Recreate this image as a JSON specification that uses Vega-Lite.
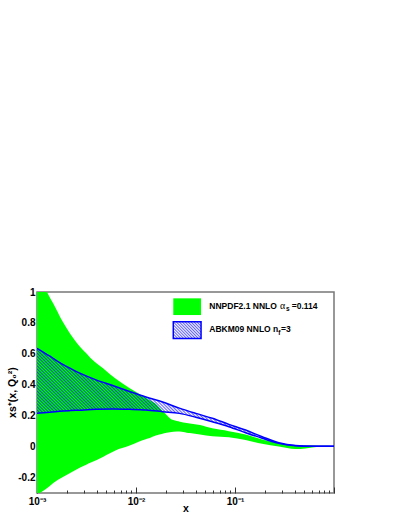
{
  "$schema": "https://vega.github.io/schema/vega-lite/v6.json",
  "width": 297,
  "height": 201,
  "autosize": {"type": "none"},
  "padding": {"left": 37, "top": 292, "right": 67, "bottom": 25},
  "background": "white",
  "config": {
    "view": {"stroke": "#777777", "strokeWidth": 1.5},
    "font": "Liberation Sans",
    "axis": {
      "domain": false, "grid": false, "labelOverlap": false, "labelFlush": false,
      "labelFont": "Liberation Sans", "labelFontWeight": "bold", "labelFontSize": 10, "labelColor": "black",
      "titleFont": "Liberation Sans", "titleFontWeight": "bold", "titleFontSize": 10.5, "titleColor": "black",
      "tickColor": "#333333", "tickWidth": 1
    }
  },
  "datasets": {
    "nnpdf": [
      {"x": 0.001, "lo": -0.31, "hi": 1.15},
      {"x": 0.00126, "lo": -0.27, "hi": 1.0},
      {"x": 0.00146, "lo": -0.235, "hi": 0.925},
      {"x": 0.00179, "lo": -0.2, "hi": 0.815},
      {"x": 0.00216, "lo": -0.17, "hi": 0.73},
      {"x": 0.00273, "lo": -0.135, "hi": 0.645},
      {"x": 0.00318, "lo": -0.115, "hi": 0.6},
      {"x": 0.00345, "lo": -0.105, "hi": 0.575},
      {"x": 0.00468, "lo": -0.065, "hi": 0.505},
      {"x": 0.0062, "lo": -0.025, "hi": 0.44},
      {"x": 0.0085, "lo": 0.005, "hi": 0.38},
      {"x": 0.0105, "lo": 0.03, "hi": 0.345},
      {"x": 0.0121, "lo": 0.045, "hi": 0.322},
      {"x": 0.0138, "lo": 0.056, "hi": 0.3},
      {"x": 0.0156, "lo": 0.07, "hi": 0.28},
      {"x": 0.0182, "lo": 0.082, "hi": 0.237},
      {"x": 0.0204, "lo": 0.09, "hi": 0.205},
      {"x": 0.022, "lo": 0.093, "hi": 0.183},
      {"x": 0.0258, "lo": 0.097, "hi": 0.165},
      {"x": 0.0278, "lo": 0.097, "hi": 0.161},
      {"x": 0.0325, "lo": 0.09, "hi": 0.153},
      {"x": 0.035, "lo": 0.088, "hi": 0.15},
      {"x": 0.0443, "lo": 0.078, "hi": 0.14},
      {"x": 0.059, "lo": 0.067, "hi": 0.118},
      {"x": 0.0868, "lo": 0.06, "hi": 0.1},
      {"x": 0.128, "lo": 0.043, "hi": 0.078},
      {"x": 0.188, "lo": 0.018, "hi": 0.046},
      {"x": 0.277, "lo": 0.0, "hi": 0.021},
      {"x": 0.408, "lo": -0.016, "hi": 0.008},
      {"x": 0.515, "lo": -0.012, "hi": 0.007},
      {"x": 0.7, "lo": -0.001, "hi": 0.006},
      {"x": 0.9, "lo": 0.003, "hi": 0.005}
    ],
    "abkm": [
      {"x": 0.001, "lo": 0.215, "hi": 0.636},
      {"x": 0.00135, "lo": 0.222, "hi": 0.585},
      {"x": 0.00184, "lo": 0.23, "hi": 0.53},
      {"x": 0.00217, "lo": 0.233, "hi": 0.506},
      {"x": 0.0027, "lo": 0.236, "hi": 0.475},
      {"x": 0.004, "lo": 0.241, "hi": 0.43},
      {"x": 0.0059, "lo": 0.243, "hi": 0.394},
      {"x": 0.0086, "lo": 0.241, "hi": 0.357},
      {"x": 0.0126, "lo": 0.237, "hi": 0.321},
      {"x": 0.0186, "lo": 0.226, "hi": 0.288},
      {"x": 0.0274, "lo": 0.215, "hi": 0.249},
      {"x": 0.0402, "lo": 0.19, "hi": 0.215},
      {"x": 0.059, "lo": 0.161, "hi": 0.183},
      {"x": 0.0868, "lo": 0.129, "hi": 0.144},
      {"x": 0.128, "lo": 0.09, "hi": 0.107},
      {"x": 0.188, "lo": 0.054, "hi": 0.064},
      {"x": 0.277, "lo": 0.021, "hi": 0.025},
      {"x": 0.408, "lo": 0.006, "hi": 0.007},
      {"x": 0.6, "lo": 0.002, "hi": 0.003},
      {"x": 1.0, "lo": 0.002, "hi": 0.003}
    ],
    "boxGreen": [{"x": 0.0238, "x2": 0.0454, "y": 0.959, "y2": 0.851}],
    "boxHatch": [{"x": 0.0238, "x2": 0.0454, "y": 0.808, "y2": 0.7}],
    "legendMain": [
      {"x": 0.055, "y": 0.893, "text": "NNPDF2.1 NNLO"},
      {"x": 0.3738, "y": 0.893, "text": "=0.114"},
      {"x": 0.055, "y": 0.739, "text": "ABKM09 NNLO"},
      {"x": 0.242, "y": 0.739, "text": "n"},
      {"x": 0.2914, "y": 0.739, "text": "=3"}
    ],
    "legendGreek": [{"x": 0.2848, "y": 0.893, "text": "α"}],
    "legendSub": [
      {"x": 0.3275, "y": 0.877, "text": "s"},
      {"x": 0.2739, "y": 0.719, "text": "f"}
    ]
  },
  "layer": [
    {
      "data": {"name": "nnpdf"},
      "mark": {"type": "area", "color": "#00ff00", "opacity": 1, "interpolate": "monotone", "clip": true},
      "encoding": {
        "x": {"field": "x", "type": "quantitative", "title": "x", "scale": {"type": "log", "domain": [0.001, 1], "nice": false},
          "axis": {"title": "x", "titleY": 15, "titleBaseline": "middle", "labelOverlap": false, "labelFlush": false, "labelPadding": 9, "labelBaseline": "top",
            "values": [0.001, 0.002, 0.003, 0.004, 0.005, 0.006, 0.007, 0.008, 0.009, 0.01, 0.02, 0.03, 0.04, 0.05, 0.06, 0.07, 0.08, 0.09, 0.1, 0.2, 0.3, 0.4, 0.5, 0.6, 0.7, 0.8, 0.9, 1],
            "labelExpr": "abs(datum.value - 0.001) < 1e-9 ? '10⁻³' : abs(datum.value - 0.01) < 1e-9 ? '10⁻²' : abs(datum.value - 0.1) < 1e-9 ? '10⁻¹' : ''",
            "tickSize": {"condition": {"test": "abs(log(datum.value)/LN10 - round(log(datum.value)/LN10)) < 1e-6", "value": -6}, "value": -3}}},
        "y": {"field": "hi", "type": "quantitative", "title": "xs⁺(x, Q₀²)", "scale": {"domain": [-0.3, 1], "nice": false, "zero": false},
          "axis": {"title": "xs⁺(x, Q₀²)", "titleX": -25, "titleY": 100, "titleAngle": -90, "titleAlign": "center", "titleBaseline": "middle", "labelOverlap": false, "labelFlush": false, "labelPadding": 8, "tickSize": -6,
            "values": [-0.2, 0, 0.2, 0.4, 0.6, 0.8, 1],
            "labelExpr": "datum.value < 0 ? '-' + format(-datum.value, '.1~f') : format(datum.value, '.1~f')"}},
        "y2": {"field": "lo"}
      }
    },
    {
      "data": {"name": "abkm"},
      "mark": {"type": "area", "opacity": 1, "interpolate": "monotone", "clip": true,
        "fill": {"gradient": "linear", "x1": 0, "y1": 1, "x2": 1.1994, "y2": 0.6042, "stops": [
          {"offset": 0, "color": "#0000ff00"}, {"offset": 0.004, "color": "#0000ff99"}, {"offset": 0.008, "color": "#0000ff00"}, {"offset": 0.012, "color": "#0000ff99"}, {"offset": 0.016, "color": "#0000ff00"}, {"offset": 0.02, "color": "#0000ff99"}, {"offset": 0.024, "color": "#0000ff00"}, {"offset": 0.028, "color": "#0000ff99"}, {"offset": 0.032, "color": "#0000ff00"}, {"offset": 0.036, "color": "#0000ff99"},
          {"offset": 0.04, "color": "#0000ff00"}, {"offset": 0.044, "color": "#0000ff99"}, {"offset": 0.048, "color": "#0000ff00"}, {"offset": 0.052, "color": "#0000ff99"}, {"offset": 0.056, "color": "#0000ff00"}, {"offset": 0.06, "color": "#0000ff99"}, {"offset": 0.064, "color": "#0000ff00"}, {"offset": 0.068, "color": "#0000ff99"}, {"offset": 0.072, "color": "#0000ff00"}, {"offset": 0.076, "color": "#0000ff99"},
          {"offset": 0.08, "color": "#0000ff00"}, {"offset": 0.084, "color": "#0000ff99"}, {"offset": 0.088, "color": "#0000ff00"}, {"offset": 0.092, "color": "#0000ff99"}, {"offset": 0.096, "color": "#0000ff00"}, {"offset": 0.1, "color": "#0000ff99"}, {"offset": 0.104, "color": "#0000ff00"}, {"offset": 0.108, "color": "#0000ff99"}, {"offset": 0.112, "color": "#0000ff00"}, {"offset": 0.116, "color": "#0000ff99"},
          {"offset": 0.12, "color": "#0000ff00"}, {"offset": 0.124, "color": "#0000ff99"}, {"offset": 0.128, "color": "#0000ff00"}, {"offset": 0.132, "color": "#0000ff99"}, {"offset": 0.136, "color": "#0000ff00"}, {"offset": 0.14, "color": "#0000ff99"}, {"offset": 0.144, "color": "#0000ff00"}, {"offset": 0.148, "color": "#0000ff99"}, {"offset": 0.152, "color": "#0000ff00"}, {"offset": 0.156, "color": "#0000ff99"},
          {"offset": 0.16, "color": "#0000ff00"}, {"offset": 0.164, "color": "#0000ff99"}, {"offset": 0.168, "color": "#0000ff00"}, {"offset": 0.172, "color": "#0000ff99"}, {"offset": 0.176, "color": "#0000ff00"}, {"offset": 0.18, "color": "#0000ff99"}, {"offset": 0.184, "color": "#0000ff00"}, {"offset": 0.188, "color": "#0000ff99"}, {"offset": 0.192, "color": "#0000ff00"}, {"offset": 0.196, "color": "#0000ff99"},
          {"offset": 0.2, "color": "#0000ff00"}, {"offset": 0.204, "color": "#0000ff99"}, {"offset": 0.208, "color": "#0000ff00"}, {"offset": 0.212, "color": "#0000ff99"}, {"offset": 0.216, "color": "#0000ff00"}, {"offset": 0.22, "color": "#0000ff99"}, {"offset": 0.224, "color": "#0000ff00"}, {"offset": 0.228, "color": "#0000ff99"}, {"offset": 0.232, "color": "#0000ff00"}, {"offset": 0.236, "color": "#0000ff99"},
          {"offset": 0.24, "color": "#0000ff00"}, {"offset": 0.244, "color": "#0000ff99"}, {"offset": 0.248, "color": "#0000ff00"}, {"offset": 0.252, "color": "#0000ff99"}, {"offset": 0.256, "color": "#0000ff00"}, {"offset": 0.26, "color": "#0000ff99"}, {"offset": 0.264, "color": "#0000ff00"}, {"offset": 0.268, "color": "#0000ff99"}, {"offset": 0.272, "color": "#0000ff00"}, {"offset": 0.276, "color": "#0000ff99"},
          {"offset": 0.28, "color": "#0000ff00"}, {"offset": 0.284, "color": "#0000ff99"}, {"offset": 0.288, "color": "#0000ff00"}, {"offset": 0.292, "color": "#0000ff99"}, {"offset": 0.296, "color": "#0000ff00"}, {"offset": 0.3, "color": "#0000ff99"}, {"offset": 0.304, "color": "#0000ff00"}, {"offset": 0.308, "color": "#0000ff99"}, {"offset": 0.312, "color": "#0000ff00"}, {"offset": 0.316, "color": "#0000ff99"},
          {"offset": 0.32, "color": "#0000ff00"}, {"offset": 0.324, "color": "#0000ff99"}, {"offset": 0.328, "color": "#0000ff00"}, {"offset": 0.332, "color": "#0000ff99"}, {"offset": 0.336, "color": "#0000ff00"}, {"offset": 0.34, "color": "#0000ff99"}, {"offset": 0.344, "color": "#0000ff00"}, {"offset": 0.348, "color": "#0000ff99"}, {"offset": 0.352, "color": "#0000ff00"}, {"offset": 0.356, "color": "#0000ff99"},
          {"offset": 0.36, "color": "#0000ff00"}, {"offset": 0.364, "color": "#0000ff99"}, {"offset": 0.368, "color": "#0000ff00"}, {"offset": 0.372, "color": "#0000ff99"}, {"offset": 0.376, "color": "#0000ff00"}, {"offset": 0.38, "color": "#0000ff99"}, {"offset": 0.384, "color": "#0000ff00"}, {"offset": 0.388, "color": "#0000ff99"}, {"offset": 0.392, "color": "#0000ff00"}, {"offset": 0.396, "color": "#0000ff99"},
          {"offset": 0.4, "color": "#0000ff00"}, {"offset": 0.404, "color": "#0000ff99"}, {"offset": 0.408, "color": "#0000ff00"}, {"offset": 0.412, "color": "#0000ff99"}, {"offset": 0.416, "color": "#0000ff00"}, {"offset": 0.42, "color": "#0000ff99"}, {"offset": 0.424, "color": "#0000ff00"}, {"offset": 0.428, "color": "#0000ff99"}, {"offset": 0.432, "color": "#0000ff00"}, {"offset": 0.436, "color": "#0000ff99"},
          {"offset": 0.44, "color": "#0000ff00"}, {"offset": 0.444, "color": "#0000ff99"}, {"offset": 0.448, "color": "#0000ff00"}, {"offset": 0.452, "color": "#0000ff99"}, {"offset": 0.456, "color": "#0000ff00"}, {"offset": 0.46, "color": "#0000ff99"}, {"offset": 0.464, "color": "#0000ff00"}, {"offset": 0.468, "color": "#0000ff99"}, {"offset": 0.472, "color": "#0000ff00"}, {"offset": 0.476, "color": "#0000ff99"},
          {"offset": 0.48, "color": "#0000ff00"}, {"offset": 0.484, "color": "#0000ff99"}, {"offset": 0.488, "color": "#0000ff00"}, {"offset": 0.492, "color": "#0000ff99"}, {"offset": 0.496, "color": "#0000ff00"}, {"offset": 0.5, "color": "#0000ff99"}, {"offset": 0.504, "color": "#0000ff00"}, {"offset": 0.508, "color": "#0000ff99"}, {"offset": 0.512, "color": "#0000ff00"}, {"offset": 0.516, "color": "#0000ff99"},
          {"offset": 0.52, "color": "#0000ff00"}, {"offset": 0.524, "color": "#0000ff99"}, {"offset": 0.528, "color": "#0000ff00"}, {"offset": 0.532, "color": "#0000ff99"}, {"offset": 0.536, "color": "#0000ff00"}, {"offset": 0.54, "color": "#0000ff99"}, {"offset": 0.544, "color": "#0000ff00"}, {"offset": 0.548, "color": "#0000ff99"}, {"offset": 0.552, "color": "#0000ff00"}, {"offset": 0.556, "color": "#0000ff99"},
          {"offset": 0.56, "color": "#0000ff00"}, {"offset": 0.564, "color": "#0000ff99"}, {"offset": 0.568, "color": "#0000ff00"}, {"offset": 0.572, "color": "#0000ff99"}, {"offset": 0.576, "color": "#0000ff00"}, {"offset": 0.58, "color": "#0000ff99"}, {"offset": 0.584, "color": "#0000ff00"}, {"offset": 0.588, "color": "#0000ff99"}, {"offset": 0.592, "color": "#0000ff00"}, {"offset": 0.596, "color": "#0000ff99"},
          {"offset": 0.6, "color": "#0000ff00"}, {"offset": 0.604, "color": "#0000ff99"}, {"offset": 0.608, "color": "#0000ff00"}, {"offset": 0.612, "color": "#0000ff99"}, {"offset": 0.616, "color": "#0000ff00"}, {"offset": 0.62, "color": "#0000ff99"}, {"offset": 0.624, "color": "#0000ff00"}, {"offset": 0.628, "color": "#0000ff99"}, {"offset": 0.632, "color": "#0000ff00"}, {"offset": 0.636, "color": "#0000ff99"},
          {"offset": 0.64, "color": "#0000ff00"}, {"offset": 0.644, "color": "#0000ff99"}, {"offset": 0.648, "color": "#0000ff00"}, {"offset": 0.652, "color": "#0000ff99"}, {"offset": 0.656, "color": "#0000ff00"}, {"offset": 0.66, "color": "#0000ff99"}, {"offset": 0.664, "color": "#0000ff00"}, {"offset": 0.668, "color": "#0000ff99"}, {"offset": 0.672, "color": "#0000ff00"}, {"offset": 0.676, "color": "#0000ff99"},
          {"offset": 0.68, "color": "#0000ff00"}, {"offset": 0.684, "color": "#0000ff99"}, {"offset": 0.688, "color": "#0000ff00"}, {"offset": 0.692, "color": "#0000ff99"}, {"offset": 0.696, "color": "#0000ff00"}, {"offset": 0.7, "color": "#0000ff99"}, {"offset": 0.704, "color": "#0000ff00"}, {"offset": 0.708, "color": "#0000ff99"}, {"offset": 0.712, "color": "#0000ff00"}, {"offset": 0.716, "color": "#0000ff99"},
          {"offset": 0.72, "color": "#0000ff00"}, {"offset": 0.724, "color": "#0000ff99"}, {"offset": 0.728, "color": "#0000ff00"}, {"offset": 0.732, "color": "#0000ff99"}, {"offset": 0.736, "color": "#0000ff00"}, {"offset": 0.74, "color": "#0000ff99"}, {"offset": 0.744, "color": "#0000ff00"}, {"offset": 0.748, "color": "#0000ff99"}, {"offset": 0.752, "color": "#0000ff00"}, {"offset": 0.756, "color": "#0000ff99"},
          {"offset": 0.76, "color": "#0000ff00"}, {"offset": 0.764, "color": "#0000ff99"}, {"offset": 0.768, "color": "#0000ff00"}, {"offset": 0.772, "color": "#0000ff99"}, {"offset": 0.776, "color": "#0000ff00"}, {"offset": 0.78, "color": "#0000ff99"}, {"offset": 0.784, "color": "#0000ff00"}, {"offset": 0.788, "color": "#0000ff99"}, {"offset": 0.792, "color": "#0000ff00"}, {"offset": 0.796, "color": "#0000ff99"},
          {"offset": 0.8, "color": "#0000ff00"}, {"offset": 0.804, "color": "#0000ff99"}, {"offset": 0.808, "color": "#0000ff00"}, {"offset": 0.812, "color": "#0000ff99"}, {"offset": 0.816, "color": "#0000ff00"}, {"offset": 0.82, "color": "#0000ff99"}, {"offset": 0.824, "color": "#0000ff00"}, {"offset": 0.828, "color": "#0000ff99"}, {"offset": 0.832, "color": "#0000ff00"}, {"offset": 0.836, "color": "#0000ff99"},
          {"offset": 0.84, "color": "#0000ff00"}, {"offset": 0.844, "color": "#0000ff99"}, {"offset": 0.848, "color": "#0000ff00"}, {"offset": 0.852, "color": "#0000ff99"}, {"offset": 0.856, "color": "#0000ff00"}, {"offset": 0.86, "color": "#0000ff99"}, {"offset": 0.864, "color": "#0000ff00"}, {"offset": 0.868, "color": "#0000ff99"}, {"offset": 0.872, "color": "#0000ff00"}, {"offset": 0.876, "color": "#0000ff99"},
          {"offset": 0.88, "color": "#0000ff00"}, {"offset": 0.884, "color": "#0000ff99"}, {"offset": 0.888, "color": "#0000ff00"}, {"offset": 0.892, "color": "#0000ff99"}, {"offset": 0.896, "color": "#0000ff00"}, {"offset": 0.9, "color": "#0000ff99"}, {"offset": 0.904, "color": "#0000ff00"}, {"offset": 0.908, "color": "#0000ff99"}, {"offset": 0.912, "color": "#0000ff00"}, {"offset": 0.916, "color": "#0000ff99"},
          {"offset": 0.92, "color": "#0000ff00"}, {"offset": 0.924, "color": "#0000ff99"}, {"offset": 0.928, "color": "#0000ff00"}, {"offset": 0.932, "color": "#0000ff99"}, {"offset": 0.936, "color": "#0000ff00"}, {"offset": 0.94, "color": "#0000ff99"}, {"offset": 0.944, "color": "#0000ff00"}, {"offset": 0.948, "color": "#0000ff99"}, {"offset": 0.952, "color": "#0000ff00"}, {"offset": 0.956, "color": "#0000ff99"},
          {"offset": 0.96, "color": "#0000ff00"}, {"offset": 0.964, "color": "#0000ff99"}, {"offset": 0.968, "color": "#0000ff00"}, {"offset": 0.972, "color": "#0000ff99"}, {"offset": 0.976, "color": "#0000ff00"}, {"offset": 0.98, "color": "#0000ff99"}, {"offset": 0.984, "color": "#0000ff00"}, {"offset": 0.988, "color": "#0000ff99"}, {"offset": 0.992, "color": "#0000ff00"}, {"offset": 0.996, "color": "#0000ff99"},
          {"offset": 1, "color": "#0000ff00"}
        ]}},
      "encoding": {
        "x": {"field": "x", "type": "quantitative", "title": "x", "scale": {"type": "log", "domain": [0.001, 1], "nice": false},
          "axis": {"title": "x", "titleY": 15, "titleBaseline": "middle", "labelOverlap": false, "labelFlush": false, "labelPadding": 9, "labelBaseline": "top",
            "values": [0.001, 0.002, 0.003, 0.004, 0.005, 0.006, 0.007, 0.008, 0.009, 0.01, 0.02, 0.03, 0.04, 0.05, 0.06, 0.07, 0.08, 0.09, 0.1, 0.2, 0.3, 0.4, 0.5, 0.6, 0.7, 0.8, 0.9, 1],
            "labelExpr": "abs(datum.value - 0.001) < 1e-9 ? '10⁻³' : abs(datum.value - 0.01) < 1e-9 ? '10⁻²' : abs(datum.value - 0.1) < 1e-9 ? '10⁻¹' : ''",
            "tickSize": {"condition": {"test": "abs(log(datum.value)/LN10 - round(log(datum.value)/LN10)) < 1e-6", "value": -6}, "value": -3}}},
        "y": {"field": "hi", "type": "quantitative", "title": "xs⁺(x, Q₀²)", "scale": {"domain": [-0.3, 1], "nice": false, "zero": false},
          "axis": {"title": "xs⁺(x, Q₀²)", "titleX": -25, "titleY": 100, "titleAngle": -90, "titleAlign": "center", "titleBaseline": "middle", "labelOverlap": false, "labelFlush": false, "labelPadding": 8, "tickSize": -6,
            "values": [-0.2, 0, 0.2, 0.4, 0.6, 0.8, 1],
            "labelExpr": "datum.value < 0 ? '-' + format(-datum.value, '.1~f') : format(datum.value, '.1~f')"}},
        "y2": {"field": "lo"}
      }
    },
    {
      "data": {"name": "abkm"},
      "mark": {"type": "line", "color": "#0000ff", "strokeWidth": 1.5, "interpolate": "monotone", "clip": true},
      "encoding": {
        "x": {"field": "x", "type": "quantitative", "title": "x", "scale": {"type": "log", "domain": [0.001, 1], "nice": false},
          "axis": {"title": "x", "titleY": 15, "titleBaseline": "middle", "labelOverlap": false, "labelFlush": false, "labelPadding": 9, "labelBaseline": "top",
            "values": [0.001, 0.002, 0.003, 0.004, 0.005, 0.006, 0.007, 0.008, 0.009, 0.01, 0.02, 0.03, 0.04, 0.05, 0.06, 0.07, 0.08, 0.09, 0.1, 0.2, 0.3, 0.4, 0.5, 0.6, 0.7, 0.8, 0.9, 1],
            "labelExpr": "abs(datum.value - 0.001) < 1e-9 ? '10⁻³' : abs(datum.value - 0.01) < 1e-9 ? '10⁻²' : abs(datum.value - 0.1) < 1e-9 ? '10⁻¹' : ''",
            "tickSize": {"condition": {"test": "abs(log(datum.value)/LN10 - round(log(datum.value)/LN10)) < 1e-6", "value": -6}, "value": -3}}},
        "y": {"field": "hi", "type": "quantitative", "title": "xs⁺(x, Q₀²)", "scale": {"domain": [-0.3, 1], "nice": false, "zero": false},
          "axis": {"title": "xs⁺(x, Q₀²)", "titleX": -25, "titleY": 100, "titleAngle": -90, "titleAlign": "center", "titleBaseline": "middle", "labelOverlap": false, "labelFlush": false, "labelPadding": 8, "tickSize": -6,
            "values": [-0.2, 0, 0.2, 0.4, 0.6, 0.8, 1],
            "labelExpr": "datum.value < 0 ? '-' + format(-datum.value, '.1~f') : format(datum.value, '.1~f')"}}
      }
    },
    {
      "data": {"name": "abkm"},
      "mark": {"type": "line", "color": "#0000ff", "strokeWidth": 1.5, "interpolate": "monotone", "clip": true},
      "encoding": {
        "x": {"field": "x", "type": "quantitative", "title": "x", "scale": {"type": "log", "domain": [0.001, 1], "nice": false},
          "axis": {"title": "x", "titleY": 15, "titleBaseline": "middle", "labelOverlap": false, "labelFlush": false, "labelPadding": 9, "labelBaseline": "top",
            "values": [0.001, 0.002, 0.003, 0.004, 0.005, 0.006, 0.007, 0.008, 0.009, 0.01, 0.02, 0.03, 0.04, 0.05, 0.06, 0.07, 0.08, 0.09, 0.1, 0.2, 0.3, 0.4, 0.5, 0.6, 0.7, 0.8, 0.9, 1],
            "labelExpr": "abs(datum.value - 0.001) < 1e-9 ? '10⁻³' : abs(datum.value - 0.01) < 1e-9 ? '10⁻²' : abs(datum.value - 0.1) < 1e-9 ? '10⁻¹' : ''",
            "tickSize": {"condition": {"test": "abs(log(datum.value)/LN10 - round(log(datum.value)/LN10)) < 1e-6", "value": -6}, "value": -3}}},
        "y": {"field": "lo", "type": "quantitative", "title": "xs⁺(x, Q₀²)", "scale": {"domain": [-0.3, 1], "nice": false, "zero": false},
          "axis": {"title": "xs⁺(x, Q₀²)", "titleX": -25, "titleY": 100, "titleAngle": -90, "titleAlign": "center", "titleBaseline": "middle", "labelOverlap": false, "labelFlush": false, "labelPadding": 8, "tickSize": -6,
            "values": [-0.2, 0, 0.2, 0.4, 0.6, 0.8, 1],
            "labelExpr": "datum.value < 0 ? '-' + format(-datum.value, '.1~f') : format(datum.value, '.1~f')"}}
      }
    },
    {
      "data": {"name": "boxGreen"},
      "mark": {"type": "rect", "color": "#00ff00", "opacity": 1},
      "encoding": {
        "x": {"field": "x", "type": "quantitative", "title": "x", "scale": {"type": "log", "domain": [0.001, 1], "nice": false},
          "axis": {"title": "x", "titleY": 15, "titleBaseline": "middle", "labelOverlap": false, "labelFlush": false, "labelPadding": 9, "labelBaseline": "top",
            "values": [0.001, 0.002, 0.003, 0.004, 0.005, 0.006, 0.007, 0.008, 0.009, 0.01, 0.02, 0.03, 0.04, 0.05, 0.06, 0.07, 0.08, 0.09, 0.1, 0.2, 0.3, 0.4, 0.5, 0.6, 0.7, 0.8, 0.9, 1],
            "labelExpr": "abs(datum.value - 0.001) < 1e-9 ? '10⁻³' : abs(datum.value - 0.01) < 1e-9 ? '10⁻²' : abs(datum.value - 0.1) < 1e-9 ? '10⁻¹' : ''",
            "tickSize": {"condition": {"test": "abs(log(datum.value)/LN10 - round(log(datum.value)/LN10)) < 1e-6", "value": -6}, "value": -3}}},
        "x2": {"field": "x2"},
        "y": {"field": "y", "type": "quantitative", "title": "xs⁺(x, Q₀²)", "scale": {"domain": [-0.3, 1], "nice": false, "zero": false},
          "axis": {"title": "xs⁺(x, Q₀²)", "titleX": -25, "titleY": 100, "titleAngle": -90, "titleAlign": "center", "titleBaseline": "middle", "labelOverlap": false, "labelFlush": false, "labelPadding": 8, "tickSize": -6,
            "values": [-0.2, 0, 0.2, 0.4, 0.6, 0.8, 1],
            "labelExpr": "datum.value < 0 ? '-' + format(-datum.value, '.1~f') : format(datum.value, '.1~f')"}},
        "y2": {"field": "y2"}
      }
    },
    {
      "data": {"name": "boxHatch"},
      "mark": {"type": "rect", "stroke": "#0000ff", "strokeWidth": 1.5, "opacity": 1,
        "fill": {"gradient": "linear", "x1": 0, "y1": 1, "x2": 1.18, "y2": 0.304, "stops": [
          {"offset": 0, "color": "#0000ff00"}, {"offset": 0.0333, "color": "#0000ff99"}, {"offset": 0.0667, "color": "#0000ff00"}, {"offset": 0.1, "color": "#0000ff99"}, {"offset": 0.1333, "color": "#0000ff00"}, {"offset": 0.1667, "color": "#0000ff99"}, {"offset": 0.2, "color": "#0000ff00"}, {"offset": 0.2333, "color": "#0000ff99"}, {"offset": 0.2667, "color": "#0000ff00"}, {"offset": 0.3, "color": "#0000ff99"}, {"offset": 0.3333, "color": "#0000ff00"}, {"offset": 0.3667, "color": "#0000ff99"}, {"offset": 0.4, "color": "#0000ff00"}, {"offset": 0.4333, "color": "#0000ff99"}, {"offset": 0.4667, "color": "#0000ff00"}, {"offset": 0.5, "color": "#0000ff99"}, {"offset": 0.5333, "color": "#0000ff00"}, {"offset": 0.5667, "color": "#0000ff99"}, {"offset": 0.6, "color": "#0000ff00"}, {"offset": 0.6333, "color": "#0000ff99"}, {"offset": 0.6667, "color": "#0000ff00"}, {"offset": 0.7, "color": "#0000ff99"}, {"offset": 0.7333, "color": "#0000ff00"}, {"offset": 0.7667, "color": "#0000ff99"}, {"offset": 0.8, "color": "#0000ff00"}, {"offset": 0.8333, "color": "#0000ff99"}, {"offset": 0.8667, "color": "#0000ff00"}, {"offset": 0.9, "color": "#0000ff99"}, {"offset": 0.9333, "color": "#0000ff00"}, {"offset": 0.9667, "color": "#0000ff99"}, {"offset": 1, "color": "#0000ff00"}
        ]}},
      "encoding": {
        "x": {"field": "x", "type": "quantitative", "title": "x", "scale": {"type": "log", "domain": [0.001, 1], "nice": false},
          "axis": {"title": "x", "titleY": 15, "titleBaseline": "middle", "labelOverlap": false, "labelFlush": false, "labelPadding": 9, "labelBaseline": "top",
            "values": [0.001, 0.002, 0.003, 0.004, 0.005, 0.006, 0.007, 0.008, 0.009, 0.01, 0.02, 0.03, 0.04, 0.05, 0.06, 0.07, 0.08, 0.09, 0.1, 0.2, 0.3, 0.4, 0.5, 0.6, 0.7, 0.8, 0.9, 1],
            "labelExpr": "abs(datum.value - 0.001) < 1e-9 ? '10⁻³' : abs(datum.value - 0.01) < 1e-9 ? '10⁻²' : abs(datum.value - 0.1) < 1e-9 ? '10⁻¹' : ''",
            "tickSize": {"condition": {"test": "abs(log(datum.value)/LN10 - round(log(datum.value)/LN10)) < 1e-6", "value": -6}, "value": -3}}},
        "x2": {"field": "x2"},
        "y": {"field": "y", "type": "quantitative", "title": "xs⁺(x, Q₀²)", "scale": {"domain": [-0.3, 1], "nice": false, "zero": false},
          "axis": {"title": "xs⁺(x, Q₀²)", "titleX": -25, "titleY": 100, "titleAngle": -90, "titleAlign": "center", "titleBaseline": "middle", "labelOverlap": false, "labelFlush": false, "labelPadding": 8, "tickSize": -6,
            "values": [-0.2, 0, 0.2, 0.4, 0.6, 0.8, 1],
            "labelExpr": "datum.value < 0 ? '-' + format(-datum.value, '.1~f') : format(datum.value, '.1~f')"}},
        "y2": {"field": "y2"}
      }
    },
    {
      "data": {"name": "legendMain"},
      "mark": {"type": "text", "align": "left", "baseline": "alphabetic", "font": "Liberation Sans", "fontWeight": "bold", "fontSize": 8.5, "color": "black"},
      "encoding": {
        "x": {"field": "x", "type": "quantitative", "title": "x", "scale": {"type": "log", "domain": [0.001, 1], "nice": false},
          "axis": {"title": "x", "titleY": 15, "titleBaseline": "middle", "labelOverlap": false, "labelFlush": false, "labelPadding": 9, "labelBaseline": "top",
            "values": [0.001, 0.002, 0.003, 0.004, 0.005, 0.006, 0.007, 0.008, 0.009, 0.01, 0.02, 0.03, 0.04, 0.05, 0.06, 0.07, 0.08, 0.09, 0.1, 0.2, 0.3, 0.4, 0.5, 0.6, 0.7, 0.8, 0.9, 1],
            "labelExpr": "abs(datum.value - 0.001) < 1e-9 ? '10⁻³' : abs(datum.value - 0.01) < 1e-9 ? '10⁻²' : abs(datum.value - 0.1) < 1e-9 ? '10⁻¹' : ''",
            "tickSize": {"condition": {"test": "abs(log(datum.value)/LN10 - round(log(datum.value)/LN10)) < 1e-6", "value": -6}, "value": -3}}},
        "y": {"field": "y", "type": "quantitative", "title": "xs⁺(x, Q₀²)", "scale": {"domain": [-0.3, 1], "nice": false, "zero": false},
          "axis": {"title": "xs⁺(x, Q₀²)", "titleX": -25, "titleY": 100, "titleAngle": -90, "titleAlign": "center", "titleBaseline": "middle", "labelOverlap": false, "labelFlush": false, "labelPadding": 8, "tickSize": -6,
            "values": [-0.2, 0, 0.2, 0.4, 0.6, 0.8, 1],
            "labelExpr": "datum.value < 0 ? '-' + format(-datum.value, '.1~f') : format(datum.value, '.1~f')"}},
        "text": {"field": "text"}
      }
    },
    {
      "data": {"name": "legendGreek"},
      "mark": {"type": "text", "align": "left", "baseline": "alphabetic", "font": "Liberation Serif", "fontSize": 10, "color": "black"},
      "encoding": {
        "x": {"field": "x", "type": "quantitative", "title": "x", "scale": {"type": "log", "domain": [0.001, 1], "nice": false},
          "axis": {"title": "x", "titleY": 15, "titleBaseline": "middle", "labelOverlap": false, "labelFlush": false, "labelPadding": 9, "labelBaseline": "top",
            "values": [0.001, 0.002, 0.003, 0.004, 0.005, 0.006, 0.007, 0.008, 0.009, 0.01, 0.02, 0.03, 0.04, 0.05, 0.06, 0.07, 0.08, 0.09, 0.1, 0.2, 0.3, 0.4, 0.5, 0.6, 0.7, 0.8, 0.9, 1],
            "labelExpr": "abs(datum.value - 0.001) < 1e-9 ? '10⁻³' : abs(datum.value - 0.01) < 1e-9 ? '10⁻²' : abs(datum.value - 0.1) < 1e-9 ? '10⁻¹' : ''",
            "tickSize": {"condition": {"test": "abs(log(datum.value)/LN10 - round(log(datum.value)/LN10)) < 1e-6", "value": -6}, "value": -3}}},
        "y": {"field": "y", "type": "quantitative", "title": "xs⁺(x, Q₀²)", "scale": {"domain": [-0.3, 1], "nice": false, "zero": false},
          "axis": {"title": "xs⁺(x, Q₀²)", "titleX": -25, "titleY": 100, "titleAngle": -90, "titleAlign": "center", "titleBaseline": "middle", "labelOverlap": false, "labelFlush": false, "labelPadding": 8, "tickSize": -6,
            "values": [-0.2, 0, 0.2, 0.4, 0.6, 0.8, 1],
            "labelExpr": "datum.value < 0 ? '-' + format(-datum.value, '.1~f') : format(datum.value, '.1~f')"}},
        "text": {"field": "text"}
      }
    },
    {
      "data": {"name": "legendSub"},
      "mark": {"type": "text", "align": "left", "baseline": "alphabetic", "font": "Liberation Sans", "fontWeight": "bold", "fontSize": 6.5, "color": "black"},
      "encoding": {
        "x": {"field": "x", "type": "quantitative", "title": "x", "scale": {"type": "log", "domain": [0.001, 1], "nice": false},
          "axis": {"title": "x", "titleY": 15, "titleBaseline": "middle", "labelOverlap": false, "labelFlush": false, "labelPadding": 9, "labelBaseline": "top",
            "values": [0.001, 0.002, 0.003, 0.004, 0.005, 0.006, 0.007, 0.008, 0.009, 0.01, 0.02, 0.03, 0.04, 0.05, 0.06, 0.07, 0.08, 0.09, 0.1, 0.2, 0.3, 0.4, 0.5, 0.6, 0.7, 0.8, 0.9, 1],
            "labelExpr": "abs(datum.value - 0.001) < 1e-9 ? '10⁻³' : abs(datum.value - 0.01) < 1e-9 ? '10⁻²' : abs(datum.value - 0.1) < 1e-9 ? '10⁻¹' : ''",
            "tickSize": {"condition": {"test": "abs(log(datum.value)/LN10 - round(log(datum.value)/LN10)) < 1e-6", "value": -6}, "value": -3}}},
        "y": {"field": "y", "type": "quantitative", "title": "xs⁺(x, Q₀²)", "scale": {"domain": [-0.3, 1], "nice": false, "zero": false},
          "axis": {"title": "xs⁺(x, Q₀²)", "titleX": -25, "titleY": 100, "titleAngle": -90, "titleAlign": "center", "titleBaseline": "middle", "labelOverlap": false, "labelFlush": false, "labelPadding": 8, "tickSize": -6,
            "values": [-0.2, 0, 0.2, 0.4, 0.6, 0.8, 1],
            "labelExpr": "datum.value < 0 ? '-' + format(-datum.value, '.1~f') : format(datum.value, '.1~f')"}},
        "text": {"field": "text"}
      }
    }
  ]
}
